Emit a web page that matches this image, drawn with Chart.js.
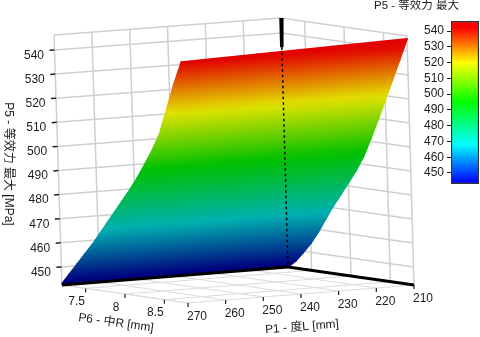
<!DOCTYPE html>
<html>
<head>
<meta charset="utf-8">
<style>
  body { margin: 0; background: #fff; }
  canvas { position: absolute; }
  #scene { left: 0; top: 0; }
  #bar { left: 353px; top: 0; }
</style>
<script src="https://cdn.jsdelivr.net/npm/chart.js@4"></script>
</head>
<body>
<canvas id="scene" width="480" height="337"></canvas>
<canvas id="bar" width="127" height="200"></canvas>
<script>
const FONT = '"Liberation Sans", "Noto Sans CJK SC", sans-serif';
const TEXT = '#1c1c1c';

// axis ticks and titles
const lengthTicks = [270, 260, 250, 240, 230, 220, 210];
const radiusTicks = [7.5, 8, 8.5];
const radiusLabels = ['7.5', '8', '8.5'];
const stressTicks = [450, 460, 470, 480, 490, 500, 510, 520, 530, 540];
const stressTitle = 'P5 - 等效力 最大 [MPa]';
const radiusTitle = 'P6 - 中R [mm]';
const lengthTitle = 'P1 - 度L [mm]';
const barTitle = 'P5 - 等效力 最大';

// surface: one row of stress per R, one list per L
const radiusGrid = [7.2, 7.3, 7.4, 7.5, 7.6, 7.7, 7.8, 7.9, 8, 8.1, 8.2, 8.3, 8.4, 8.5, 8.6, 8.7, 8.8];
const lengthGrid = [210, 230, 250, 270];
const stressAtL210 = [442.5, 445.5, 449.5, 453.8, 459, 465, 470.8, 476, 481.3, 486.8, 493, 501, 509.5, 518, 527, 536, 545];
const stressAtL230 = [442.7, 446.5, 450.5, 455, 459.8, 465.5, 470.8, 476, 481.2, 486.5, 492.5, 499.8, 507.8, 516, 525.5, 534.8, 544];
const stressAtL250 = [442.8, 447, 451.3, 455.8, 460.3, 465.8, 470.9, 476, 481.1, 486.2, 492, 498.7, 506, 514, 523.8, 533.5, 543];
const stressAtL270 = [443, 447.5, 452, 456.5, 461, 466, 471, 476, 481, 486, 491.5, 497.5, 503.8, 511, 521.8, 532.5, 542];
const stressColumns = [stressAtL210, stressAtL230, stressAtL250, stressAtL270];

// box limits
const lengthRange = [210, 270];
const radiusRange = [7.2, 8.8];
const stressRange = [442.5, 546.2];
const barRange = [443, 546.4];

// where the eight box corners land on the page
const corners = {
  left:  { low: [62, 285],  high: [54, 35] },
  back:  { low: [288, 267], high: [281, 18] },
  right: { low: [414, 285], high: [407, 36] },
  front: { low: [188, 303], high: [181, 52] }
};

// colour ramp, colour bar and the darker shaded version on the surface
const rampValues = [444, 468, 495, 520, 542];
const rampBright = ['#0000ff', '#00ffff', '#00ff00', '#ffff00', '#ff0000'];
const rampShaded = [[0, 0, 125], [0, 176, 176], [0, 192, 0], [226, 226, 0], [226, 0, 0]];

function mix(a, b, t) { return a + (b - a) * t; }

// 3D box position to page position
function project(L, R, S) {
  const u = (L - lengthRange[0]) / (lengthRange[1] - lengthRange[0]);
  const v = (R - radiusRange[0]) / (radiusRange[1] - radiusRange[0]);
  const w = (S - stressRange[0]) / (stressRange[1] - stressRange[0]);
  const pick = (i, h) => mix(
    mix(corners.back[h][i], corners.right[h][i], v),
    mix(corners.left[h][i], corners.front[h][i], v), u);
  return {
    x: mix(pick(0, 'low'), pick(0, 'high'), w),
    y: mix(pick(1, 'low'), pick(1, 'high'), w)
  };
}

function shadedColor(S) {
  const last = rampValues.length - 1;
  let i = 0;
  while (i < last - 1 && S > rampValues[i + 1]) i++;
  const t = Math.min(1, Math.max(0, (S - rampValues[i]) / (rampValues[i + 1] - rampValues[i])));
  const c = rampShaded[i].map((a, k) => Math.round(mix(a, rampShaded[i + 1][k], t)));
  return `rgb(${c[0]},${c[1]},${c[2]})`;
}

const datasets = [];
function addLine(points, color, width, dash) {
  datasets.push({
    data: points, showLine: true, pointRadius: 0, tension: 0, fill: false,
    borderColor: color, borderWidth: width, borderDash: dash || [], borderCapStyle: 'butt'
  });
}

// one flat triangle of the surface, stress varies linearly over it so colours meet at every edge
function addPatch(corner1, corner2, corner3) {
  const pts = [corner1, corner2, corner3].map(q => project(q[0], q[1], q[2]));
  const zs = [corner1[2], corner2[2], corner3[2]];
  const mean = (zs[0] + zs[1] + zs[2]) / 3;
  const paint = ctx => {
    const chart = ctx.chart;
    const flat = shadedColor(mean);
    if (!chart.chartArea) return flat;
    const px = pts.map(p => [chart.scales.x.getPixelForValue(p.x), chart.scales.y.getPixelForValue(p.y)]);
    if (!Number.isFinite(px[0][0]) || !Number.isFinite(px[0][1])) return flat;
    const x1 = px[1][0] - px[0][0], y1 = px[1][1] - px[0][1], d1 = zs[1] - zs[0];
    const x2 = px[2][0] - px[0][0], y2 = px[2][1] - px[0][1], d2 = zs[2] - zs[0];
    const det = x1 * y2 - x2 * y1;
    const gx = (d1 * y2 - d2 * y1) / det, gy = (x1 * d2 - x2 * d1) / det;
    const g2 = gx * gx + gy * gy;
    if (!Number.isFinite(g2) || g2 === 0) return flat;
    // gradient runs over the stress span of this triangle, a little past each end
    const zFrom = Math.min(zs[0], zs[1], zs[2]) - 2, zTo = Math.max(zs[0], zs[1], zs[2]) + 2;
    const grad = chart.ctx.createLinearGradient(
      px[0][0] + (zFrom - zs[0]) * gx / g2, px[0][1] + (zFrom - zs[0]) * gy / g2,
      px[0][0] + (zTo - zs[0]) * gx / g2, px[0][1] + (zTo - zs[0]) * gy / g2);
    for (let k = 0; k <= 4; k++) grad.addColorStop(k / 4, shadedColor(mix(zFrom, zTo, k / 4)));
    return grad;
  };
  datasets.push({
    data: pts.concat([pts[0]]), showLine: true, pointRadius: 0, tension: 0,
    fill: 'shape', backgroundColor: paint, borderColor: paint, borderWidth: 1.6,
    borderJoinStyle: 'round', borderCapStyle: 'round'
  });
}

const [Lmin, Lmax] = lengthRange;
const [Rmin, Rmax] = radiusRange;
const [Smin, Smax] = stressRange;
const wallGrey = '#cfcfcf';
const floorGrey = '#dcdcdc';

// floor
lengthTicks.forEach(L => addLine([project(L, Rmin, Smin), project(L, Rmax, Smin)], floorGrey, 1));
radiusTicks.forEach(R => addLine([project(Lmin, R, Smin), project(Lmax, R, Smin)], floorGrey, 1));
addLine([project(Lmax, Rmin, Smin), project(Lmax, Rmax, Smin), project(Lmin, Rmax, Smin)], floorGrey, 1);

// back walls
stressTicks.concat([Smax]).forEach(S => {
  addLine([project(Lmax, Rmin, S), project(Lmin, Rmin, S), project(Lmin, Rmax, S)], wallGrey, 1.5);
});
lengthTicks.forEach(L => addLine([project(L, Rmin, Smin), project(L, Rmin, Smax)], wallGrey, 1.5));
radiusTicks.concat([Rmax]).forEach(R => addLine([project(Lmin, R, Smin), project(Lmin, R, Smax)], wallGrey, 1.5));

// solid part of the stress axis, above the surface
addLine([project(Lmin, Rmin, Smax), project(Lmin, Rmin, 534)], '#000', 3.5);

// surface
for (let r = 0; r < radiusGrid.length - 1; r++) {
  for (let c = 0; c < lengthGrid.length - 1; c++) {
    const p1 = [lengthGrid[c], radiusGrid[r], stressColumns[c][r]];
    const p2 = [lengthGrid[c + 1], radiusGrid[r], stressColumns[c + 1][r]];
    const p3 = [lengthGrid[c + 1], radiusGrid[r + 1], stressColumns[c + 1][r + 1]];
    const p4 = [lengthGrid[c], radiusGrid[r + 1], stressColumns[c][r + 1]];
    addPatch(p1, p2, p3);
    addPatch(p1, p3, p4);
  }
}

// hidden part of the stress axis and the black floor edges
addLine([project(Lmin, Rmin, 534), project(Lmin, Rmin, Smin)], '#000', 1.5, [2.5, 3]);
addLine([project(Lmax, Rmin, Smin), project(Lmin, Rmin, Smin)], '#000', 3);
addLine([project(Lmin, Rmin, Smin), project(Lmin, Rmax, Smin)], '#000', 3);

// tick marks
const tickDrop = 4, tickOut = 5;
lengthTicks.forEach(L => {
  const p = project(L, Rmax, Smin);
  addLine([p, { x: p.x, y: p.y + tickDrop }], '#222', 1.2);
});
radiusTicks.forEach(R => {
  const p = project(Lmax, R, Smin);
  addLine([p, { x: p.x, y: p.y + tickDrop }], '#222', 1.2);
});
stressTicks.forEach(S => {
  const p = project(Lmax, Rmin, S);
  addLine([{ x: p.x - tickOut, y: p.y + 0.4 }, p], '#222', 1.5);
});

datasets.forEach((d, i) => { d.order = -i; });

// tick labels and axis titles on the 3D box
const boxText = {
  id: 'boxText',
  afterDatasetsDraw(chart) {
    const ctx = chart.ctx;
    const sx = chart.scales.x, sy = chart.scales.y;
    const put = (text, p, dx, dy, align) => {
      ctx.textAlign = align || 'center';
      ctx.fillText(text, sx.getPixelForValue(p.x) + dx, sy.getPixelForValue(p.y) + dy);
    };
    ctx.save();
    ctx.font = '12px ' + FONT;
    ctx.fillStyle = TEXT;
    ctx.textBaseline = 'middle';
    lengthTicks.forEach(L => put(String(L), project(L, Rmax, Smin), 9, 14));
    radiusTicks.forEach((R, i) => put(radiusLabels[i], project(Lmax, R, Smin), -9, 13.5));
    stressTicks.forEach(S => put(String(S), project(Lmax, Rmin, S), -10.5, 5.5, 'right'));
    ctx.textAlign = 'center';
    const rotated = (text, x, y, deg) => {
      ctx.save();
      ctx.translate(x, y);
      ctx.rotate(deg * Math.PI / 180);
      ctx.fillText(text, 0, 0);
      ctx.restore();
    };
    rotated(stressTitle, 8, 164, 90);
    rotated(radiusTitle, 116, 323, 8);
    rotated(lengthTitle, 302, 327, -4.6);
    ctx.font = '11.5px ' + FONT;
    rotated(barTitle, 416.5, 5.5, 0);
    ctx.restore();
  }
};

new Chart(document.getElementById('scene'), {
  type: 'scatter',
  data: { datasets: datasets },
  plugins: [boxText],
  options: {
    responsive: false,
    animation: false,
    devicePixelRatio: 1,
    layout: { padding: 0 },
    plugins: { legend: { display: false }, tooltip: { enabled: false }, title: { display: false } },
    scales: {
      x: { type: 'linear', min: 0, max: 480, display: false },
      y: { type: 'linear', min: 0, max: 337, reverse: true, display: false }
    }
  }
});

// colour bar, on its own real axis
new Chart(document.getElementById('bar'), {
  type: 'bar',
  data: {
    labels: [''],
    datasets: [{
      data: [barRange],
      barPercentage: 1,
      categoryPercentage: 1,
      borderColor: '#333',
      borderWidth: 1.5,
      borderSkipped: false,
      backgroundColor: ctx => {
        const area = ctx.chart.chartArea;
        if (!area) return rampBright[0];
        const g = ctx.chart.ctx.createLinearGradient(0, area.bottom, 0, area.top);
        rampValues.forEach((v, i) => {
          g.addColorStop((v - barRange[0]) / (barRange[1] - barRange[0]), rampBright[i]);
        });
        return g;
      }
    }]
  },
  options: {
    responsive: false,
    animation: false,
    devicePixelRatio: 1,
    layout: { padding: { left: 66, right: 1, top: 21, bottom: 16 } },
    plugins: {
      legend: { display: false },
      tooltip: { enabled: false }
    },
    scales: {
      x: { display: false },
      y: {
        min: barRange[0],
        max: barRange[1],
        afterBuildTicks: axis => { axis.ticks = stressTicks.map(v => ({ value: v })); },
        afterFit: axis => { axis.width = 32; },
        border: { display: false },
        grid: { drawOnChartArea: false, color: '#222', tickLength: 4 },
        ticks: { color: TEXT, font: { family: FONT, size: 12 }, padding: 3, autoSkip: false }
      }
    }
  }
});
</script>
</body>
</html>
